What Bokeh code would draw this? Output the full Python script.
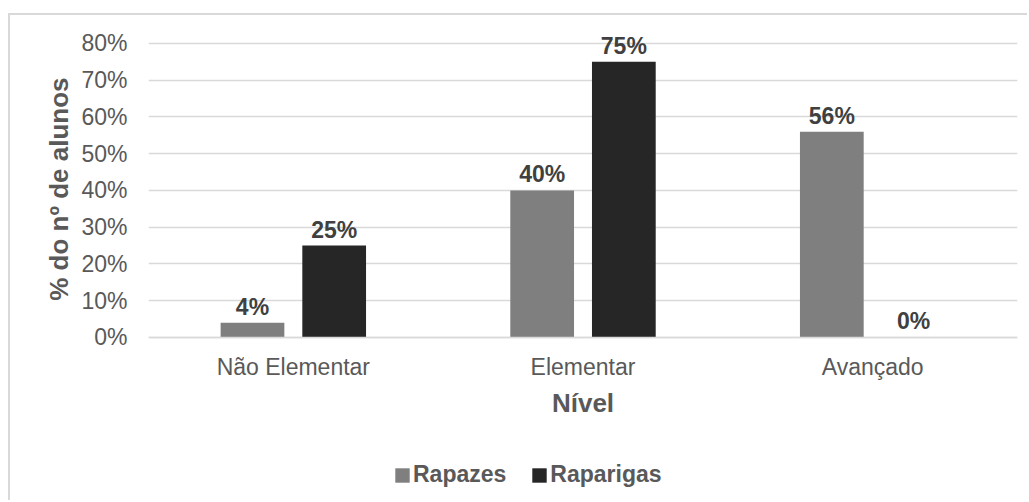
from bokeh.plotting import figure
from bokeh.models import FactorRange, Range1d, FixedTicker, NumeralTickFormatter, ColumnDataSource, InlineStyleSheet, Title
from bokeh.transform import dodge
from bokeh.core.properties import value
from bokeh.embed import file_html
from bokeh.resources import INLINE

categories = ["Não Elementar", "Elementar", "Avançado"]
rapazes = [0.04, 0.40, 0.56]
raparigas = [0.25, 0.75, 0.00]
y_ticks = [0.0, 0.1, 0.2, 0.3, 0.4, 0.5, 0.6, 0.7, 0.8]

src = ColumnDataSource(dict(
    cat=categories,
    rap=rapazes,
    rag=raparigas,
    rap_lbl=[f"{round(v*100)}%" for v in rapazes],
    rag_lbl=[f"{round(v*100)}%" for v in raparigas],
))

FONT = "Liberation Sans"

p = figure(x_range=FactorRange(*categories, range_padding=0), y_range=Range1d(-0.449, 0.8707),
           width=1019, height=487, output_backend="svg", toolbar_location=None,
           min_border_left=138, min_border_right=12, min_border_top=2, min_border_bottom=0)
p.stylesheets = [InlineStyleSheet(css=":host { border-left: 2px solid #d9d9d9; border-top: 2px solid #d9d9d9; margin-left: 8px; margin-top: 13px; }")]
p.outline_line_color = None
p.background_fill_color = "white"
p.border_fill_color = "white"

r1 = p.vbar(x=dodge("cat", -0.141, range=p.x_range), top="rap", width=0.22, source=src,
            fill_color="#7f7f7f", line_color=None, legend_label="Rapazes")
r2 = p.vbar(x=dodge("cat", 0.141, range=p.x_range), top="rag", width=0.22, source=src,
            fill_color="#262626", line_color=None, legend_label="Raparigas")

p.text(x=dodge("cat", -0.141, range=p.x_range), y="rap", text="rap_lbl", source=src,
       text_align="center", text_baseline="alphabetic", y_offset=-16,
       text_font=value(FONT), text_font_style="bold", text_font_size="23px", text_color="#404040")
p.text(x=dodge("cat", 0.141, range=p.x_range), y="rag", text="rag_lbl", source=src,
       text_align="center", text_baseline="alphabetic", y_offset=-16,
       text_font=value(FONT), text_font_style="bold", text_font_size="23px", text_color="#404040")

p.yaxis.ticker = FixedTicker(ticks=y_ticks)
p.yaxis.formatter = NumeralTickFormatter(format="0%")
p.ygrid.ticker = FixedTicker(ticks=y_ticks)
p.ygrid.grid_line_color = "#d9d9d9"
p.ygrid.grid_line_width = 1.5
p.xgrid.grid_line_color = None

for ax in (p.xaxis[0], p.yaxis[0]):
    ax.major_tick_line_color = None
    ax.minor_tick_line_color = None
    ax.major_label_text_font = FONT
    ax.major_label_text_font_size = "23px"
    ax.major_label_text_color = "#595959"
    ax.axis_label_text_font = FONT
    ax.axis_label_text_font_size = "26px"
    ax.axis_label_text_font_style = "bold"
    ax.axis_label_text_color = "#595959"

p.yaxis.axis_line_color = None
p.yaxis.major_label_standoff = 15
p.xaxis.fixed_location = 0
p.xaxis.axis_line_color = "#d9d9d9"
p.xaxis.axis_line_width = 1.5
p.xaxis.major_label_standoff = 11
p.xaxis.axis_label = "Nível"
p.xaxis.axis_label_standoff = 4

ytitle = Title(text="% do nº de alunos", align="right", offset=60, standoff=10,
               text_font=FONT, text_font_size="26px", text_font_style="bold", text_color="#595959")
p.add_layout(ytitle, "left")

lg = p.legend[0]
lg.location = (245, 14)
lg.orientation = "horizontal"
lg.border_line_color = None
lg.background_fill_alpha = 0
lg.padding = 0
lg.margin = 0
lg.spacing = 24
lg.label_standoff = 2
lg.glyph_width = 18
lg.glyph_height = 18
lg.label_text_font = FONT
lg.label_text_font_size = "23px"
lg.label_text_font_style = "bold"
lg.label_text_color = "#595959"

open("out.html", "w").write(file_html(p, INLINE))
